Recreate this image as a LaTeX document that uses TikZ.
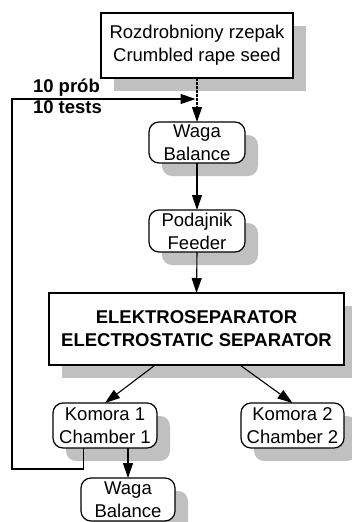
\documentclass[tikz,border=0pt]{standalone}
\usepackage{fontspec}
\setmainfont{Liberation Sans}
\usetikzlibrary{arrows.meta,shadows,calc}
\definecolor{shadowgray}{RGB}{192,192,192}
\begin{document}
\begin{tikzpicture}[x=1pt,y=-1pt,
  every node/.style={inner sep=0pt, outer sep=0pt, align=center, font=\fontsize{18.5}{23}\selectfont},
  shad/.style={drop shadow={shadow xshift=13pt, shadow yshift=-13pt, fill=shadowgray, opacity=1}},
  sqbox/.style={draw, line width=1.5pt, fill=white, shad},
  rbox/.style={draw, line width=1.2pt, fill=white, rounded corners=10pt, shad},
  conn/.style={line width=1.1pt, -{Triangle[length=15pt,width=10pt]}},
  lab/.style={anchor=base west, font=\fontsize{18.5}{23}\selectfont\bfseries},
]
\useasboundingbox (0,0) rectangle (351,522);

\node[sqbox, minimum width=192pt, minimum height=65pt] (top) at (197,45.5)
  {Rozdrobniony rzepak\\Crumbled rape seed};
\node[rbox, minimum width=96pt, minimum height=41pt] (w1) at (197,142.5) {Waga\\Balance};
\node[rbox, minimum width=96pt, minimum height=42pt] (pod) at (197,231) {Podajnik\\Feeder};
\node[sqbox, minimum width=295pt, minimum height=72pt] (sep) at (196.5,329)
  {\bfseries ELEKTROSEPARATOR\\\bfseries ELECTROSTATIC SEPARATOR};
\node[rbox, minimum width=104pt, minimum height=45pt] (k1) at (105,425.5) {Komora 1\\Chamber 1};
\node[rbox, minimum width=103pt, minimum height=45pt] (k2) at (292.5,425.5) {Komora 2\\Chamber 2};
\node[rbox, minimum width=94pt, minimum height=43pt] (w2) at (128,499.5) {Waga\\Balance};

\node[lab] (l1) at (33,92) {10 pr\'ob};
\node[lab] (l2) at (33,113) {10 tests};

% connectors
\draw[conn, dash pattern=on 3pt off 1pt] (top.south) -- (w1.north);
\draw[conn] (w1.south) -- (pod.north);
\draw[conn] (pod.south) -- (sep.north);
\draw[conn] ($(sep.south west)!0.36!(sep.south east)$) -- (k1.north);
\draw[conn] ($(sep.south west)!0.647!(sep.south east)$) -- (k2.north);
\draw[conn] (k1.south -| w2.north) -- (w2.north);

\coordinate (fbstart) at ($(k1.south west)!0.29!(k1.south east)$);
\coordinate (join) at (top.south |- 0,99);
\draw[conn, shorten >=1.5pt] (fbstart) -- (fbstart |- 0,469) -- (12,469) -- (12,99) -- (join);
\end{tikzpicture}
\end{document}
